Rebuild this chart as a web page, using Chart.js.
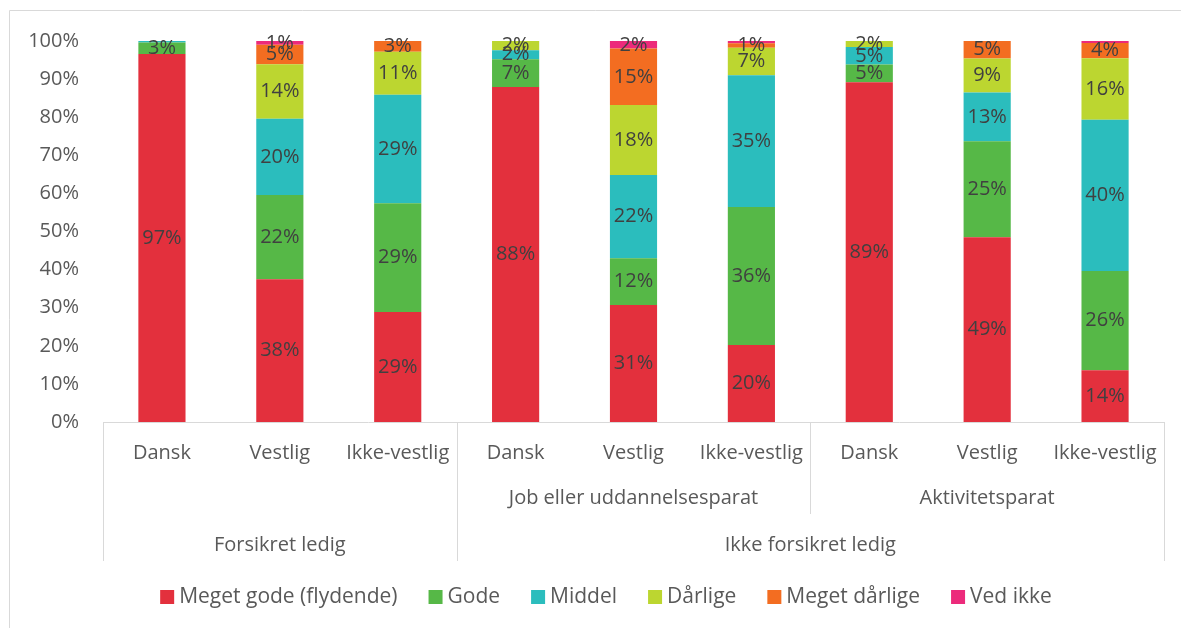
<!DOCTYPE html>
<html>
<head>
<meta charset="utf-8">
<script src="https://cdn.jsdelivr.net/npm/chart.js@4/dist/chart.umd.min.js"></script>
<style>
  html, body { margin: 0; padding: 0; background: #fff; }
  #wrap { width: 1181px; height: 628px; }
</style>
</head>
<body>
<div id="wrap"><canvas id="chart" width="1181" height="628"></canvas></div>
<script>
// categories (three levels)
const subLabels = ['Dansk', 'Vestlig', 'Ikke-vestlig', 'Dansk', 'Vestlig', 'Ikke-vestlig', 'Dansk', 'Vestlig', 'Ikke-vestlig'];
const midGroups = [['', 3], ['Job eller uddannelsesparat', 3], ['Aktivitetsparat', 3]];
const topGroups = [['Forsikret ledig', 3], ['Ikke forsikret ledig', 6]];

// series values (percent)
const megetGode    = [96.6, 37.5, 28.9, 87.9, 30.7, 20.2, 89.2, 48.5, 13.6];
const gode         = [3.0, 22.1, 28.5, 7.3, 12.3, 36.2, 4.6, 25.2, 26.0];
const middel       = [0.4, 20.0, 28.5, 2.4, 21.8, 34.6, 4.6, 12.8, 39.7];
const darlige      = [0, 14.3, 11.3, 2.4, 18.4, 7.2, 1.6, 8.9, 16.2];
const megetDarlige = [0, 5.1, 2.9, 0, 14.8, 1.2, 0, 4.6, 4.0];
const vedIkke      = [0, 1.0, 0, 0, 2.0, 0.6, 0, 0, 0.5];

const yTicks = [0, 10, 20, 30, 40, 50, 60, 70, 80, 90, 100];

const FONT = '"Open Sans", sans-serif';
const GREY = '#d9d9d9';

function ds(label, data, color) {
  return { label, data, backgroundColor: color, borderWidth: 0, barPercentage: 0.4, categoryPercentage: 1 };
}

// labels in the middle of each segment, like excel does
const segLabels = {
  id: 'segLabels',
  afterDatasetsDraw(chart) {
    const ctx = chart.ctx;
    ctx.save();
    ctx.font = '20px ' + FONT;
    ctx.fillStyle = '#404040';
    ctx.textAlign = 'center';
    ctx.textBaseline = 'middle';
    chart.data.datasets.forEach((d, di) => {
      chart.getDatasetMeta(di).data.forEach((bar, i) => {
        const v = d.data[i];
        if (v < 1) return;
        const p = bar.getProps(['x', 'y', 'base'], true);
        ctx.fillText(Math.round(v) + '%', p.x, (p.y + p.base) / 2);
      });
    });
    ctx.restore();
  }
};

// multi level category axis + legend + outer frame
const axisAndLegend = {
  id: 'axisAndLegend',
  afterDraw(chart) {
    const ctx = chart.ctx;
    const x = chart.scales.x;
    const half = (x.getPixelForValue(1) - x.getPixelForValue(0)) / 2;
    const edge = i => x.getPixelForValue(i) - half;
    const top = x.top;
    ctx.save();

    // frame
    ctx.strokeStyle = GREY;
    ctx.lineWidth = 1;
    ctx.beginPath();
    ctx.moveTo(9.5, 628); ctx.lineTo(9.5, 10.5); ctx.lineTo(1181, 10.5);
    ctx.stroke();

    ctx.font = '20px ' + FONT;
    ctx.fillStyle = '#595959';
    ctx.textAlign = 'center';
    ctx.textBaseline = 'middle';

    subLabels.forEach((l, i) => ctx.fillText(l, x.getPixelForValue(i), top + 31));

    const vline = (px, len) => {
      const xx = Math.round(px) + 0.5;
      ctx.beginPath(); ctx.moveTo(xx, top); ctx.lineTo(xx, top + len); ctx.stroke();
    };

    let start = 0;
    midGroups.forEach(([name, n]) => {
      if (name) ctx.fillText(name, (edge(start) + edge(start + n)) / 2, top + 76);
      vline(edge(start), 92);
      start += n;
    });
    start = 0;
    topGroups.forEach(([name, n]) => {
      ctx.fillText(name, (edge(start) + edge(start + n)) / 2, top + 123);
      vline(edge(start), 139);
      start += n;
    });
    vline(edge(start), 139);

    // legend
    ctx.font = '21px ' + FONT;
    const items = chart.data.datasets.map(d => ({ label: d.label, color: d.backgroundColor }));
    const box = 14, gap = 5, spacing = 31;
    const widths = items.map(it => box + gap + ctx.measureText(it.label).width);
    const total = widths.reduce((a, b) => a + b, 0) + spacing * (items.length - 1);
    let lx = 606 - total / 2;
    const ly = 597;
    ctx.textAlign = 'left';
    items.forEach((it, i) => {
      ctx.fillStyle = it.color;
      ctx.fillRect(lx, ly - box / 2, box, box);
      ctx.fillStyle = '#595959';
      ctx.fillText(it.label, lx + box + gap, ly);
      lx += widths[i] + spacing;
    });
    ctx.restore();
  }
};

new Chart(document.getElementById('chart'), {
  type: 'bar',
  data: {
    labels: subLabels,
    datasets: [
      ds('Meget gode (flydende)', megetGode, '#e3303d'),
      ds('Gode', gode, '#56b847'),
      ds('Middel', middel, '#2bbdbd'),
      ds('Dårlige', darlige, '#bcd630'),
      ds('Meget dårlige', megetDarlige, '#f36d21'),
      ds('Ved ikke', vedIkke, '#ec2a7b')
    ]
  },
  options: {
    responsive: false,
    animation: false,
    layout: { padding: { top: 41, right: 17, bottom: 53, left: 0 } },
    plugins: { legend: { display: false }, tooltip: { enabled: false } },
    scales: {
      x: {
        stacked: true,
        grid: { display: false },
        border: { display: true, color: GREY, width: 1 },
        ticks: { display: false },
        afterFit: s => { s.height = 153; }
      },
      y: {
        stacked: true,
        min: yTicks[0],
        max: yTicks[yTicks.length - 1],
        afterBuildTicks: s => { s.ticks = yTicks.map(v => ({ value: v })); },
        ticks: {
          callback: v => v + '%',
          color: '#595959',
          font: { family: FONT, size: 20 },
          padding: 24
        },
        grid: { display: false, drawTicks: false },
        border: { display: false },
        afterFit: s => { s.width = 103; }
      }
    }
  },
  plugins: [segLabels, axisAndLegend]
});
</script>
</body>
</html>
